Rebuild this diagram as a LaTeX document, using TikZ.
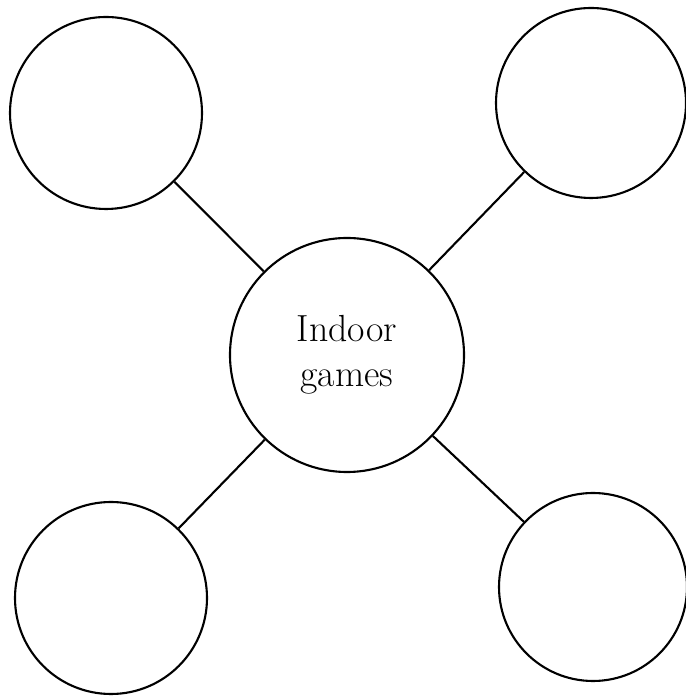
\documentclass[tikz,border=0pt]{standalone}
\usepackage{tikz}

\begin{document}
\begin{tikzpicture}[
        bubble/.style={circle, draw, line width=1.2pt, inner sep=0pt},
        link/.style={line width=1.2pt}
    ]
        % Frame
        \useasboundingbox (0,0) rectangle (13.7,13.98);
        % Central topic
        \node[bubble, minimum size=4.68cm, align=center, font=\fontsize{21.5}{25.6}\selectfont] (games) at (6.94,6.88) {Indoor\\games};
        % Empty bubbles
        \node[bubble, minimum size=3.84cm] (topleft) at (2.12,11.72) {};
        \node[bubble, minimum size=3.80cm] (topright) at (11.82,11.92) {};
        \node[bubble, minimum size=3.84cm] (bottomleft) at (2.22,2.02) {};
        \node[bubble, minimum size=3.76cm] (bottomright) at (11.86,2.24) {};
        % Links
        \draw[link] (games) -- (topleft);
        \draw[link] (games) -- (topright);
        \draw[link] (games) -- (bottomleft);
        \draw[link] (games) -- (bottomright);
    \end{tikzpicture}
\end{document}
